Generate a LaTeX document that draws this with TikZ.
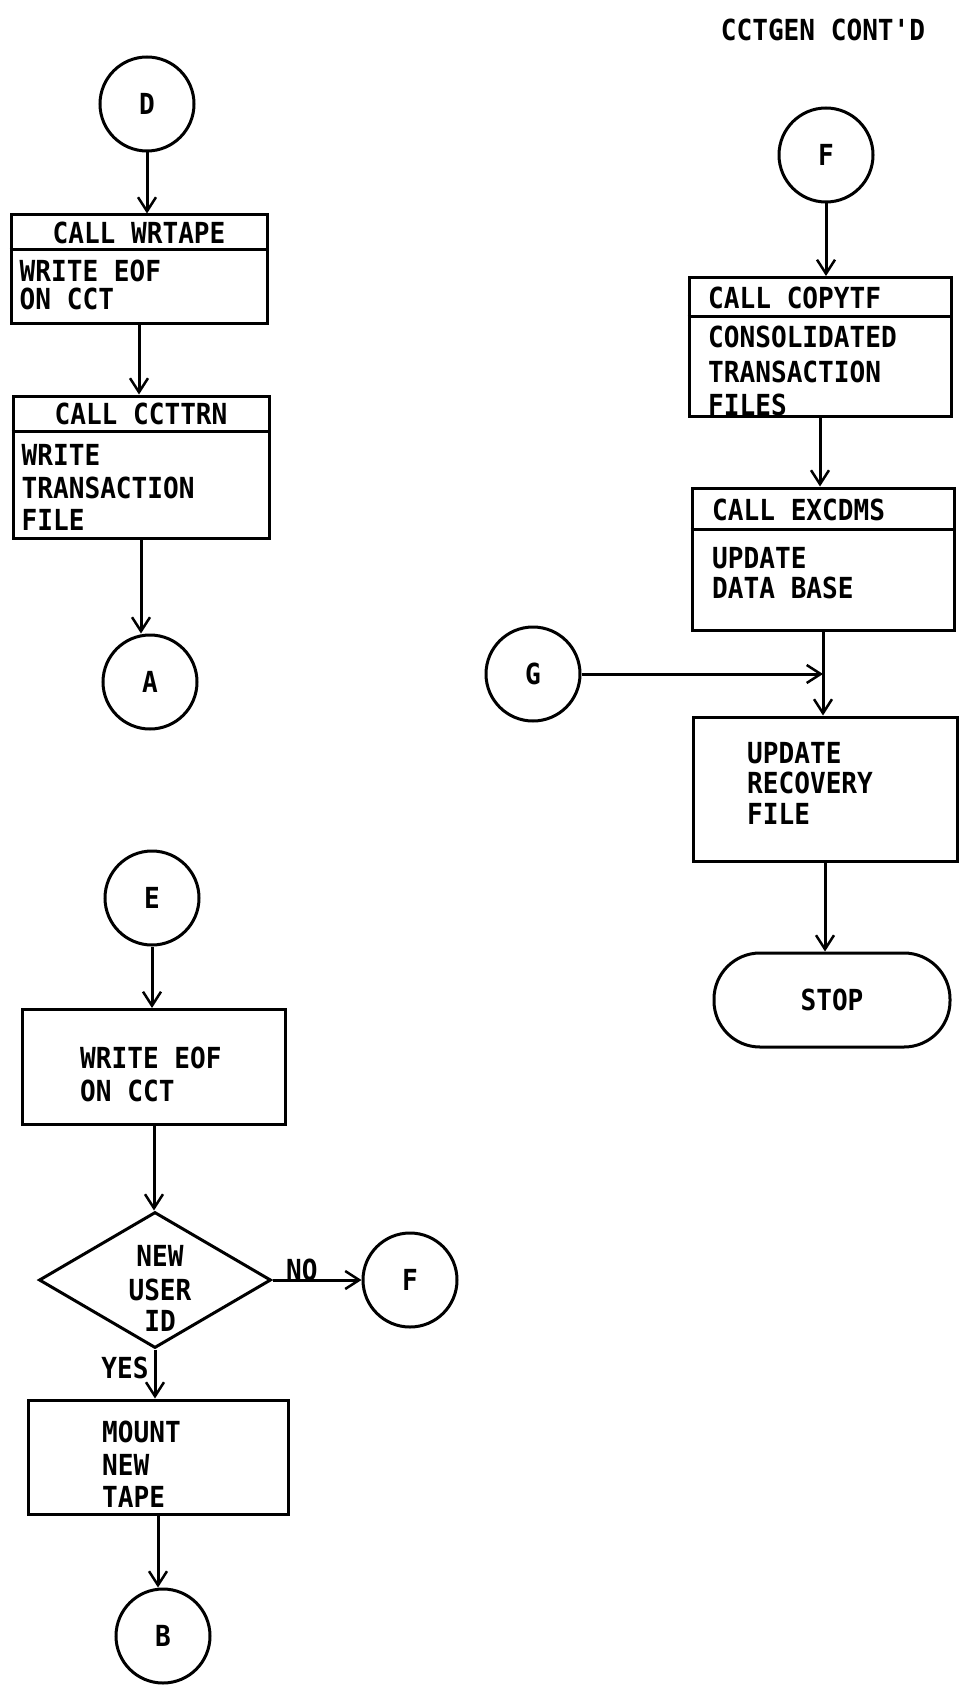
\documentclass[tikz,border=0pt]{standalone}
\usepackage{fontspec}
\newfontfamily\lett[FakeStretch=0.9]{DejaVu Sans Mono}
\usetikzlibrary{arrows.meta,shapes.geometric}
\begin{document}
\begin{tikzpicture}[x=1pt,y=-1pt,
  every node/.style={inner sep=0pt},
  txt/.style={font=\lett\bfseries\fontsize{29}{35}\selectfont},
  conn/.style={circle,draw,line width=3pt,minimum size=94pt,txt},
  box/.style={draw,line width=3pt},
  flow/.style={line width=3pt,-{Straight Barb[length=14pt,width=18pt,line width=2.5pt]}},
  plain/.style={line width=3pt}
]
\useasboundingbox (0,0) rectangle (962,1688);

\node[txt,anchor=base] (title) at (823,41) {CCTGEN CONT'D};

% ---- D chain
\node[conn] (D) at (147,104) {D};
\node[box,minimum width=256pt,minimum height=108pt] (b1) at (139,269) {};
\draw[plain] ([yshift=-36pt]b1.north west) -- ([yshift=-36pt]b1.north east);
\node[txt,anchor=base] (b1h) at ([yshift=-30pt]b1.north) {CALL WRTAPE};
\node[txt,anchor=base west] (b1l1) at ([xshift=10pt,yshift=-68pt]b1.north west) {WRITE EOF};
\node[txt,anchor=base west] (b1l2) at ([xshift=10pt,yshift=-96pt]b1.north west) {ON CCT};

\node[box,minimum width=256pt,minimum height=142pt] (b2) at (141,467) {};
\draw[plain] ([yshift=-37pt]b2.north west) -- ([yshift=-37pt]b2.north east);
\node[txt,anchor=base] (b2h) at ([yshift=-30pt]b2.north) {CALL CCTTRN};
\node[txt,anchor=base west] (b2l1) at ([xshift=10pt,yshift=-71pt]b2.north west) {WRITE};
\node[txt,anchor=base west] (b2l2) at ([xshift=10pt,yshift=-104pt]b2.north west) {TRANSACTION};
\node[txt,anchor=base west] (b2l3) at ([xshift=10pt,yshift=-136pt]b2.north west) {FILE};

\node[conn] (A) at (150,682) {A};

\draw[flow] (D.south) -- (D.south |- b1.north);
\draw[flow] (b1.south) -- (b1.south |- b2.north);
\draw[flow] (b2.south) -- (b2.south |- A.north);

% ---- E chain
\node[conn] (E) at (152,898) {E};
\node[box,minimum width=263pt,minimum height=115pt] (b3) at (154,1067) {};
\node[txt,anchor=base west] (b3l1) at (80,1068) {WRITE EOF};
\node[txt,anchor=base west] (b3l2) at (80,1101) {ON CCT};

\node[diamond,draw,line width=3pt,minimum width=232pt,minimum height=136pt,aspect=1.7] (dec) at (155,1280) {};
\node[txt,anchor=base] (dl1) at (160,1266) {NEW};
\node[txt,anchor=base] (dl2) at (160,1300) {USER};
\node[txt,anchor=base] (dl3) at (160,1331) {ID};

\node[conn] (F2) at (410,1280) {F};
\node[box,minimum width=260pt,minimum height=114pt] (b4) at (158,1457) {};
\node[txt,anchor=base west] (b4l1) at (102,1442) {MOUNT};
\node[txt,anchor=base west] (b4l2) at (102,1475) {NEW};
\node[txt,anchor=base west] (b4l3) at (102,1507) {TAPE};
\node[conn] (B) at (163,1636) {B};

\draw[flow] (E.south) -- (E.south |- b3.north);
\draw[flow] (b3.south) -- (b3.south |- dec.north);
\draw[flow] (dec.east) -- (F2.west) node[txt,pos=0.33,anchor=base] {NO};
\draw[flow] (dec.south) -- (dec.south |- b4.north) node[txt,pos=0.6,anchor=base east,xshift=-5pt] {YES};
\draw[flow] (b4.south) -- (b4.south |- B.north);

% ---- F chain
\node[conn] (F) at (826,155) {F};
\node[box,minimum width=262pt,minimum height=139pt] (b5) at (820,347) {};
\draw[plain] ([yshift=-40pt]b5.north west) -- ([yshift=-40pt]b5.north east);
\node[txt,anchor=base west] (b5h) at (708,308) {CALL COPYTF};
\node[txt,anchor=base west] (b5l1) at (708,347) {CONSOLIDATED};
\node[txt,anchor=base west] (b5l2) at (708,382) {TRANSACTION};
\node[txt,anchor=base west] (b5l3) at (708,415) {FILES};

\node[box,minimum width=262pt,minimum height=142pt] (b6) at (823,559) {};
\draw[plain] ([yshift=-43pt]b6.north west) -- ([yshift=-43pt]b6.north east);
\node[txt,anchor=base west] (b6h) at (712,520) {CALL EXCDMS};
\node[txt,anchor=base west] (b6l1) at (712,568) {UPDATE};
\node[txt,anchor=base west] (b6l2) at (712,598) {DATA BASE};

\node[conn] (G) at (533,674) {G};
\node[box,minimum width=264pt,minimum height=144pt] (b7) at (825,789) {};
\node[txt,anchor=base west] (b7l1) at (747,763) {UPDATE};
\node[txt,anchor=base west] (b7l2) at (747,793) {RECOVERY};
\node[txt,anchor=base west] (b7l3) at (747,824) {FILE};

\node[draw,line width=3pt,rounded corners=46pt,minimum width=236pt,minimum height=94pt,txt] (stop) at (832,1000) {STOP};

\coordinate (join) at (b6.south |- G.east);
\draw[flow] (F.south) -- (F.south |- b5.north);
\draw[flow] (b5.south) -- (b5.south |- b6.north);
\draw[flow] (b6.south) -- (b6.south |- b7.north);
\draw[flow] (G.east) -- (join);
\draw[flow] (b7.south) -- (b7.south |- stop.north);
\end{tikzpicture}
\end{document}
